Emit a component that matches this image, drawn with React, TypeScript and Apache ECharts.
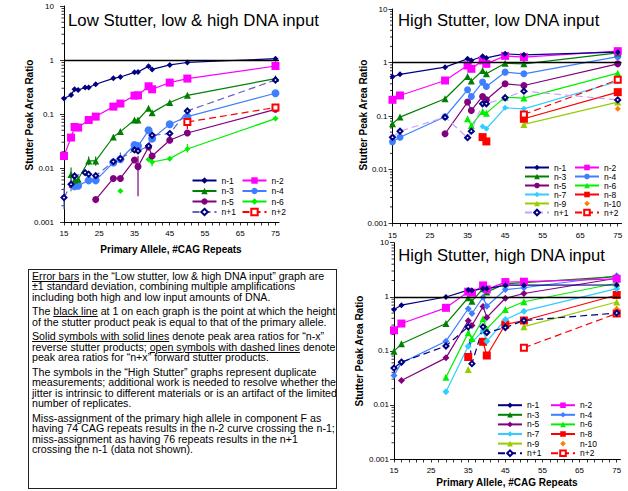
import React, { useEffect, useRef } from "react";
import * as echarts from "echarts";

const FONT = '"Liberation Sans", Arial, Helvetica, sans-serif';

// ---------- axis scaffolding ----------
const X_MIN = 15;
const X_MAX = 76;
const X_LABELS = [15, 25, 35, 45, 55, 65, 75];
const X_TICKS = [15, 17, 19, 21, 23, 25, 27, 29, 31, 33, 35, 37, 39, 41, 43, 45, 47, 49, 51, 53, 55, 57, 59, 61, 63, 65, 67, 69, 71, 73, 75];
const Y_MIN = 0.001;
const Y_MAX = 10;
const Y_MINOR = [
  0.002, 0.003, 0.004, 0.005, 0.006, 0.007, 0.008, 0.009,
  0.02, 0.03, 0.04, 0.05, 0.06, 0.07, 0.08, 0.09,
  0.2, 0.3, 0.4, 0.5, 0.6, 0.7, 0.8, 0.9,
  2, 3, 4, 5, 6, 7, 8, 9,
];
const REF_LINE = 1;

// ---------- Chart 1: Low Stutter, low & high DNA input ----------
const X1 = [15, 17, 18, 19, 21, 22, 24, 29, 31, 35, 36, 39, 40, 45, 50, 75];
const C1_NM1 = [0.193, 0.225, 0.286, 0.278, 0.31, 0.31, 0.355, 0.458, 0.485, 0.59, 0.6, 0.77, 0.67, 0.81, 0.9, 1.06];
const C1_NM2 = [0.0167, 0.0366, 0.0575, 0.056, null, 0.0774, 0.0895, 0.137, 0.156, 0.219, 0.222, 0.326, 0.287, 0.381, 0.453, 0.774];
const C1_NM3 = [null, 0.0076, 0.0059, 0.0062, null, 0.0135, 0.0135, 0.0375, 0.0472, 0.0774, 0.0774, 0.128, 0.106, 0.163, 0.222, 0.452];
const C1_NM4 = [null, null, 0.0046, 0.0047, null, 0.0059, 0.0059, 0.0126, 0.0145, 0.0267, 0.0255, 0.0499, 0.035, 0.0644, 0.0894, 0.242];
const C1_NM5 = [null, null, null, null, null, null, 0.0026, 0.0064, 0.0064, 0.0141, 0.0106, 0.0245, 0.0167, 0.0326, 0.0445, 0.122];
const C1_NM6 = [null, null, null, null, null, null, null, null, 0.00375, null, null, 0.0143, 0.0129, 0.0149, 0.0225, 0.0822];
const C1_NP1 = [0.00283, 0.005, 0.0071, null, 0.0082, 0.0077, 0.0072, 0.0131, 0.0149, 0.0216, 0.0207, 0.0255, 0.0403, 0.0434, 0.114, 0.426];
const C1_NP2 = [null, null, null, null, null, null, null, null, null, null, null, null, null, null, 0.0711, 0.132];

// error bars (±1 SD) of chart 1
const ERR_X = [15, 17, 17, 18, 22, 24, 31, 36, 40, 45, 50, 50];
const ERR_LO = [0.00172, 0.0054, 0.0037, 0.0057, 0.0112, 0.011, 0.0126, 0.003, 0.0108, 0.034, 0.0194, 0.052];
const ERR_HI = [0.00434, 0.0102, 0.0066, 0.0082, 0.0163, 0.0163, 0.0194, 0.0167, 0.0156, 0.05, 0.0277, 0.075];
const ERR_SERIES = ["n+1", "n-3", "n+1", "n+1", "n-3", "n-3", "n+1", "n-5", "n-6", "n+1", "n-6", "n+2"];

// ---------- Charts 2 and 3 share the allele list ----------
const X2 = [15, 17, 29, 35, 36, 39, 40, 45, 50, 75];

// Chart 2: High Stutter, low DNA input
const C2_NM1 = [0.54, 0.6, 0.818, 1.17, 1.09, 1.31, 1.22, 1.45, 1.39, 1.56];
const C2_NM2 = [0.201, 0.242, 0.461, 0.879, 0.762, 1.09, 0.944, 1.33, 1.26, 1.63];
const C2_NM3 = [0.0716, 0.0954, 0.21, 0.548, 0.449, 0.709, 0.614, 0.97, 0.944, 1.51];
const C2_NM4 = [0.033, 0.04, 0.0968, 0.309, 0.232, 0.43, 0.356, 0.66, 0.614, 1.29];
const C2_NM5 = [null, null, 0.0466, 0.182, 0.127, 0.232, 0.201, 0.4, 0.372, 0.944];
const C2_NM6 = [null, null, null, 0.089, 0.0666, 0.122, 0.113, 0.225, 0.216, 0.632];
const C2_NM7 = [null, null, null, null, null, 0.0638, 0.0578, 0.142, 0.136, 0.442];
const C2_NM8 = [null, null, null, null, null, 0.0403, 0.0335, null, 0.0887, 0.279];
const C2_NM9 = [null, null, null, null, null, null, null, null, 0.0696, 0.182];
const C2_NM10 = [null, null, null, null, null, null, null, null, null, 0.136];
const C2_NP1 = [0.04, 0.052, 0.095, 0.0393, 0.0521, 0.169, 0.169, 0.219, 0.291, 0.2];
const C2_NP2 = [null, null, null, null, null, null, null, null, 0.107, 0.475];

// Chart 3: High Stutter, high DNA input
const C3_NM1 = [0.58, 0.7, 0.99, 1.33, 1.3, 1.42, 1.4, 1.64, 1.64, 1.65];
const C3_NM2 = [0.24, 0.32, 0.625, 1.24, 1.19, 1.62, 1.37, 1.87, 1.9, 2.15];
const C3_NM3 = [0.0986, 0.135, 0.32, 0.96, 0.83, 1.41, 1.22, 1.74, 1.82, 2.35];
const C3_NM4 = [0.035, 0.06, 0.151, 0.6, 0.49, 0.98, 0.67, 1.36, 1.47, 2.45];
const C3_NM5 = [null, 0.0282, 0.0742, 0.36, 0.294, 0.66, 0.415, 0.94, 1.15, 2.2];
const C3_NM6 = [null, null, 0.0325, 0.215, 0.169, 0.391, 0.255, 0.582, 0.808, 1.78];
const C3_NM7 = [null, null, 0.0176, 0.122, null, 0.235, 0.15, 0.38, 0.542, 1.41];
const C3_NM8 = [null, null, null, 0.077, null, 0.147, 0.082, 0.307, 0.364, 1.08];
const C3_NM9 = [null, null, null, 0.045, null, null, null, null, 0.28, 0.8];
const C3_NM10 = [null, null, null, null, null, null, null, null, null, 0.6];
const C3_NP1 = [0.048, 0.062, 0.123, 0.278, 0.058, 0.278, 0.218, 0.27, 0.364, 0.5];
const C3_NP2 = [null, null, null, null, null, null, null, null, 0.114, 0.49];

// ---------- legend layout (names) ----------
const LEG1_A = ["n-1", "n-3", "n-5", "n+1"];
const LEG1_B = ["n-2", "n-4", "n-6", "n+2"];
const LEG2_A = ["n-1", "n-3", "n-5", "n-7", "n-9", "n+1"];
const LEG2_B = ["n-2", "n-4", "n-6", "n-8", "n-10", "n+2"];

// ---------- colours ----------
const NAVY = "#000080";
const MAGENTA = "#FF00FF";
const GREEN = "#008000";
const BLUE = "#3F7FFF";
const PURPLE = "#800080";
const LIME = "#00F000";
const CYAN = "#33CCFF";
const RED = "#FF0000";
const OLIVE = "#99CC00";
const ORANGE = "#FF8000";

type Spec = {
  name: string;
  data: (number | null)[];
  color: string;
  line?: string;
  symbol: string;
  size: number;
  dashed?: boolean;
  gap?: boolean;
  noLine?: boolean;
  open?: boolean;
};

const SPECS1: Spec[] = [
  { name: "n-6", data: C1_NM6, color: LIME, symbol: "diamond", size: 6, gap: true },
  { name: "n-5", data: C1_NM5, color: PURPLE, symbol: "circle", size: 7 },
  { name: "n-4", data: C1_NM4, color: BLUE, symbol: "circle", size: 8 },
  { name: "n-3", data: C1_NM3, color: GREEN, symbol: "triangle", size: 7 },
  { name: "n+2", data: C1_NP2, color: RED, symbol: "emptyRect", size: 6, dashed: true, open: true },
  { name: "n+1", data: C1_NP1, color: NAVY, line: "#6262C8", symbol: "emptyDiamond", size: 5, dashed: true, open: true },
  { name: "n-2", data: C1_NM2, color: MAGENTA, symbol: "rect", size: 8 },
  { name: "n-1", data: C1_NM1, color: NAVY, symbol: "diamond", size: 6 },
];

const SPECS2: Spec[] = [
  { name: "n-10", data: C2_NM10, color: ORANGE, symbol: "diamond", size: 6, noLine: true },
  { name: "n-9", data: C2_NM9, color: OLIVE, symbol: "triangle", size: 7 },
  { name: "n-8", data: C2_NM8, color: RED, symbol: "rect", size: 8, gap: true },
  { name: "n-7", data: C2_NM7, color: CYAN, symbol: "diamond", size: 6 },
  { name: "n-6", data: C2_NM6, color: LIME, symbol: "triangle", size: 7 },
  { name: "n-5", data: C2_NM5, color: PURPLE, symbol: "circle", size: 7 },
  { name: "n-4", data: C2_NM4, color: BLUE, symbol: "circle", size: 7 },
  { name: "n-3", data: C2_NM3, color: GREEN, symbol: "triangle", size: 7 },
  { name: "n+2", data: C2_NP2, color: RED, symbol: "emptyRect", size: 6, dashed: true, open: true },
  { name: "n+1", data: C2_NP1, color: NAVY, line: "#C8A0FF", symbol: "emptyDiamond", size: 5, dashed: true, open: true },
  { name: "n-2", data: C2_NM2, color: MAGENTA, symbol: "rect", size: 8 },
  { name: "n-1", data: C2_NM1, color: NAVY, symbol: "diamond", size: 6 },
];

const SPECS3: Spec[] = [
  { name: "n-10", data: C3_NM10, color: ORANGE, symbol: "diamond", size: 6, noLine: true },
  { name: "n-9", data: C3_NM9, color: OLIVE, symbol: "triangle", size: 7, gap: true },
  { name: "n-8", data: C3_NM8, color: RED, symbol: "rect", size: 8, gap: true },
  { name: "n-7", data: C3_NM7, color: CYAN, symbol: "diamond", size: 7 },
  { name: "n-6", data: C3_NM6, color: LIME, symbol: "triangle", size: 7 },
  { name: "n-5", data: C3_NM5, color: PURPLE, symbol: "diamond", size: 7 },
  { name: "n-4", data: C3_NM4, color: BLUE, symbol: "diamond", size: 7 },
  { name: "n-3", data: C3_NM3, color: GREEN, symbol: "triangle", size: 7 },
  { name: "n+2", data: C3_NP2, color: RED, symbol: "emptyRect", size: 6, dashed: true, open: true },
  { name: "n+1", data: C3_NP1, color: NAVY, symbol: "emptyDiamond", size: 5, dashed: true, open: true },
  { name: "n-2", data: C3_NM2, color: MAGENTA, symbol: "rect", size: 8 },
  { name: "n-1", data: C3_NM1, color: NAVY, symbol: "diamond", size: 6 },
];

function mkSeries(X: number[], s: Spec, withRef: boolean): any {
  const pts = s.gap
    ? X.map((x, i) => [x, s.data[i] == null ? "-" : s.data[i]])
    : X.map((x, i) => [x, s.data[i]]).filter((p) => p[1] != null);
  const ser: any = {
    type: "line",
    name: s.name,
    data: pts,
    connectNulls: false,
    symbol: s.symbol,
    symbolSize: s.size,
    showSymbol: true,
    showAllSymbol: true,
    lineStyle: s.noLine
      ? { width: 0, opacity: 0 }
      : { color: s.line || s.color, width: 1.2, type: s.dashed ? [7, 4] : "solid" },
    itemStyle: s.open
      ? { color: s.color, borderColor: s.color, borderWidth: 1 }
      : { color: s.color, borderWidth: 0 },
    emphasis: { disabled: true },
    silent: true,
  };
  if (withRef) {
    ser.markLine = {
      silent: true,
      symbol: "none",
      label: { show: false },
      lineStyle: { color: "#000", width: 1.4, type: "solid" },
      data: [{ yAxis: REF_LINE }],
    };
  }
  return ser;
}

type Cfg = {
  X: number[];
  specs: Spec[];
  grid: { left: number; top: number; width: number; height: number };
  title: { text: string; x: number; y: number; size: number };
  yTitle: { x: number; y: number };
  xTitle?: { x: number; y: number };
  legA: string[];
  legB: string[];
  legLeftA: number;
  legLeftB: number;
  legTop: number;
  legItemH: number;
  legGap: number;
  yLabelMargin: number;
  xLabelMargin: number;
  errors?: boolean;
};

function buildOption(c: Cfg): any {
  const series: any[] = c.specs.map((s, i) => mkSeries(c.X, s, i === c.specs.length - 1));
  // minor ticks of the log axis (2..9 in each decade)
  series.push({
    type: "custom",
    silent: true,
    clip: false,
    data: Y_MINOR.map((v) => [X_MIN, v]),
    renderItem: (_p: any, api: any) => {
      const pt = api.coord([api.value(0), api.value(1)]);
      return {
        type: "line",
        shape: { x1: pt[0] - 2.5, y1: pt[1], x2: pt[0], y2: pt[1] },
        style: { stroke: "#000", lineWidth: 0.8 },
      };
    },
    z: 1,
  });
  if (c.errors) {
    const colorOf = (n: string) => {
      const s = c.specs.find((q) => q.name === n);
      return s ? s.line || s.color : "#000";
    };
    series.push({
      type: "custom",
      silent: true,
      clip: false,
      encode: { x: 0, y: [1, 2] },
      data: ERR_X.map((x, i) => [x, ERR_LO[i], ERR_HI[i], i]),
      renderItem: (_p: any, api: any) => {
        const x = api.value(0);
        const lo = api.coord([x, api.value(1)]);
        const hi = api.coord([x, api.value(2)]);
        const idx = api.value(3);
        return {
          type: "line",
          shape: { x1: lo[0], y1: lo[1], x2: hi[0], y2: hi[1] },
          style: { stroke: colorOf(ERR_SERIES[idx]), lineWidth: 1.2 },
        };
      },
      z: 2,
    });
  }

  const legendCommon = {
    orient: "vertical",
    top: c.legTop,
    itemWidth: 24,
    itemHeight: c.legItemH,
    itemGap: c.legGap,
    padding: 0,
    selectedMode: false,
    textStyle: { fontSize: 8.5, fontFamily: FONT, color: "#000", lineHeight: c.legItemH },
  };

  const graphic: any[] = [
    {
      type: "text",
      x: c.title.x,
      y: c.title.y,
      silent: true,
      style: {
        text: c.title.text,
        fontSize: c.title.size,
        fontFamily: FONT,
        fill: "#000",
        align: "left",
        verticalAlign: "middle",
      },
    },
    {
      type: "text",
      x: c.yTitle.x,
      y: c.yTitle.y,
      rotation: Math.PI / 2,
      silent: true,
      style: {
        text: "Stutter Peak Area Ratio",
        fontSize: 10,
        fontWeight: "bold",
        fontFamily: FONT,
        fill: "#000",
        align: "center",
        verticalAlign: "middle",
      },
    },
  ];
  if (c.xTitle) {
    graphic.push({
      type: "text",
      x: c.xTitle.x,
      y: c.xTitle.y,
      silent: true,
      style: {
        text: "Primary Allele, #CAG Repeats",
        fontSize: 10,
        fontWeight: "bold",
        fontFamily: FONT,
        fill: "#000",
        align: "center",
        verticalAlign: "middle",
      },
    });
  }

  return {
    animation: false,
    backgroundColor: "transparent",
    textStyle: { fontFamily: FONT },
    grid: { ...c.grid, containLabel: false },
    xAxis: {
      type: "value",
      min: X_MIN,
      max: X_MAX,
      axisLine: { show: true, lineStyle: { color: "#000", width: 1 } },
      axisTick: { show: true, customValues: X_TICKS, length: 3.5, lineStyle: { color: "#000", width: 0.8 } },
      axisLabel: { show: true, customValues: X_LABELS, fontSize: 8, color: "#000", margin: c.xLabelMargin, fontFamily: FONT },
      splitLine: { show: false },
    },
    yAxis: {
      type: "log",
      logBase: 10,
      min: Y_MIN,
      max: Y_MAX,
      axisLine: { show: true, lineStyle: { color: "#000", width: 1 } },
      axisTick: { show: true, length: 4, lineStyle: { color: "#000", width: 0.8 } },
      axisLabel: {
        fontSize: 8,
        color: "#000",
        margin: c.yLabelMargin,
        fontFamily: FONT,
        formatter: (v: number) => String(Number(v.toPrecision(1))),
      },
      splitLine: { show: false },
    },
    legend: [
      { ...legendCommon, data: c.legA, left: c.legLeftA },
      { ...legendCommon, data: c.legB, left: c.legLeftB },
    ],
    graphic,
    series,
  };
}

const OPT1 = buildOption({
  X: X1,
  specs: SPECS1,
  grid: { left: 64, top: 6, width: 215, height: 216 },
  title: { text: "Low Stutter, low & high DNA input", x: 68, y: 20, size: 16.8 },
  yTitle: { x: 29.5, y: 115 },
  xTitle: { x: 171, y: 249 },
  legA: LEG1_A,
  legB: LEG1_B,
  legLeftA: 191.5,
  legLeftB: 241.5,
  legTop: 176,
  legItemH: 8,
  legGap: 1.5,
  yLabelMargin: 10,
  xLabelMargin: 7,
  errors: true,
});

const OPT2 = buildOption({
  X: X2,
  specs: SPECS2,
  grid: { left: 72.5, top: 9, width: 229, height: 214 },
  title: { text: "High Stutter, low DNA input", x: 78, y: 20, size: 16.7 },
  yTitle: { x: 43.5, y: 115 },
  legA: LEG2_A,
  legB: LEG2_B,
  legLeftA: 204,
  legLeftB: 254,
  legTop: 163,
  legItemH: 7,
  legGap: 0,
  yLabelMargin: 5,
  xLabelMargin: 8,
});

const OPT3 = buildOption({
  X: X2,
  specs: SPECS3,
  grid: { left: 74, top: 6.7, width: 226.4, height: 216.3 },
  title: { text: "High Stutter, high DNA input", x: 78.3, y: 19.5, size: 16.6 },
  yTitle: { x: 39, y: 115 },
  xTitle: { x: 187, y: 246 },
  legA: LEG2_A,
  legB: LEG2_B,
  legLeftA: 177,
  legLeftB: 230,
  legTop: 164.7,
  legItemH: 7,
  legGap: 0.6,
  yLabelMargin: 5,
  xLabelMargin: 7,
});

function ChartBox({ option, style }: { option: any; style: React.CSSProperties }) {
  const ref = useRef<HTMLDivElement>(null);
  useEffect(() => {
    if (!ref.current) return;
    const chart = echarts.init(ref.current, null, { renderer: "svg" });
    chart.setOption(option);
    return () => chart.dispose();
  }, [option]);
  return <div ref={ref} style={style} />;
}

const PARA: React.CSSProperties = { margin: "0 0 3.7px 0", whiteSpace: "nowrap" };

function NoteBox() {
  return (
    <div
      style={{
        position: "absolute",
        left: 28,
        top: 269,
        width: 309,
        height: 220,
        boxSizing: "border-box",
        border: "1.2px solid #222",
        background: "#fff",
        fontFamily: FONT,
        fontSize: 10.65,
        lineHeight: "10.6px",
        color: "#000",
        padding: "0.8px 0 0 3px",
        overflow: "hidden",
      }}
    >
      <div style={PARA}>
        <u>Error bars</u> in the “Low stutter, low &amp; high DNA input” graph are
        <br />±1 standard deviation, combining multiple amplifications
        <br />including both high and low input amounts of DNA.
      </div>
      <div style={PARA}>
        The <u>black line</u> at 1 on each graph is the point at which the height
        <br />of the stutter product peak is equal to that of the primary allele.
      </div>
      <div style={PARA}>
        <u>Solid symbols with solid lines</u> denote peak area ratios for “n-x”
        <br />reverse stutter products; <u>open symbols with dashed lines</u> denote
        <br />peak area ratios for “n+x” forward stutter products.
      </div>
      <div style={PARA}>
        The symbols in the “High Stutter” graphs represent duplicate
        <br />measurements; additional work is needed to resolve whether the
        <br />jitter is intrinsic to different materials or is an artifact of the limited
        <br />number of replicates.
      </div>
      <div style={PARA}>
        Miss-assignment of the primary high allele in component F as
        <br />having 74 CAG repeats results in the n-2 curve crossing the n-1;
        <br />miss-assignment as having 76 repeats results in the n+1
        <br />crossing the n-1 (data not shown).
      </div>
    </div>
  );
}

export default function App() {
  return (
    <div
      style={{
        position: "absolute",
        left: 0,
        top: 0,
        width: 628,
        height: 491,
        background: "#fff",
        overflow: "hidden",
      }}
    >
      <ChartBox option={OPT1} style={{ position: "absolute", left: 0, top: 0, width: 330, height: 268 }} />
      <ChartBox option={OPT2} style={{ position: "absolute", left: 320, top: 0, width: 308, height: 239, overflow: "hidden" }} />
      <ChartBox option={OPT3} style={{ position: "absolute", left: 320, top: 236, width: 308, height: 255 }} />
      <NoteBox />
    </div>
  );
}
